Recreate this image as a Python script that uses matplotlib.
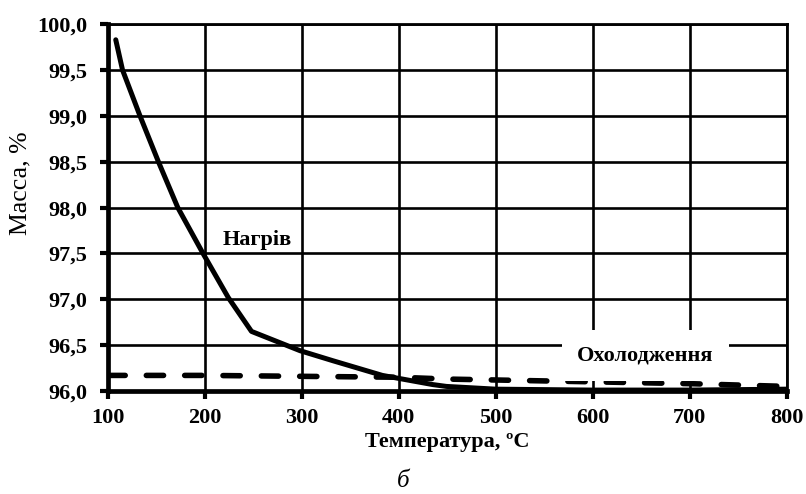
import matplotlib
matplotlib.use("Agg")
import matplotlib.pyplot as plt

# Нагрів (heating) curve
heat_T = [108, 115, 133, 152, 172, 198, 224, 248, 298, 332, 383, 435, 449, 500, 600, 700, 800]
heat_m = [99.83, 99.5, 99.0, 98.5, 98.0, 97.5, 97.02, 96.65, 96.44, 96.33, 96.17, 96.07,
          96.05, 96.02, 96.01, 96.01, 96.02]

# Охолодження (cooling) curve
cool_T = [100, 200, 300, 400, 450, 500, 600, 700, 800]
cool_m = [96.17, 96.17, 96.16, 96.15, 96.13, 96.12, 96.10, 96.08, 96.05]

x_ticks = [100, 200, 300, 400, 500, 600, 700, 800]
y_ticks = [96.0, 96.5, 97.0, 97.5, 98.0, 98.5, 99.0, 99.5, 100.0]

plt.rcParams['font.family'] = ['Liberation Serif', 'DejaVu Serif']

fig = plt.figure(figsize=(8.06, 4.94), dpi=100)
ax = fig.add_axes([0.134, 0.2085, 0.842, 0.7425])

# grille
ax.set_axisbelow(True)
ax.grid(True, color='black', linewidth=1.9)

ax.plot(heat_T, heat_m, color='black', linewidth=3.6, solid_capstyle='round', zorder=3)
ax.plot(cool_T, cool_m, color='black', linewidth=4.0, dashes=(3.1, 3.8),
        dash_capstyle='round', zorder=3)

ax.set_xlim(100, 800)
ax.set_ylim(96.0, 100.0)
ax.set_xticks(x_ticks)
ax.set_yticks(y_ticks)
ax.set_xticklabels([str(t) for t in x_ticks], fontsize=16, fontweight='bold')
ax.set_yticklabels([('%.1f' % v).replace('.', ',') for v in y_ticks], fontsize=16, fontweight='bold')
ax.tick_params(direction='out', length=6, width=3.0)
ax.tick_params(axis='x', pad=6)
ax.tick_params(axis='y', pad=9)

for s in ax.spines.values():
    s.set_linewidth(2.0)
ax.spines['left'].set_linewidth(3.4)
ax.spines['bottom'].set_linewidth(3.4)

ax.set_xlabel('Температура, ºC', fontsize=16, fontweight='bold', labelpad=3)
fig.text(0.025, 0.63, 'Масса, %', rotation=90, fontsize=18.5, ha='center', va='center')

ax.text(254, 97.65, 'Нагрів', fontsize=16, fontweight='bold', ha='center', va='center')
ax.text(654, 96.39, 'Охолодження', fontsize=16, fontweight='bold', ha='center', va='center',
        bbox=dict(facecolor='white', edgecolor='none', pad=11), zorder=4)

fig.text(0.5, 0.027, 'б', fontsize=18, style='italic', ha='center', va='center')

fig.savefig('out.png', dpi=100)
